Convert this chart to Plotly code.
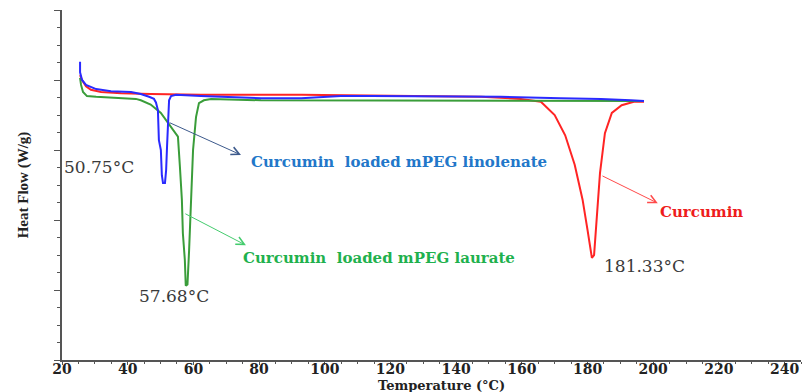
import plotly.graph_objects as go

# DSC thermograms: temperature (°C) vs heat flow (arbitrary W/g offset, endo down)
peak_linolenate = 50.75
peak_laurate = 57.68
peak_curcumin = 181.33

lin_T = [25.5, 25.5, 26.1, 27.3, 30.4, 34.9, 41.0, 44.0, 46.5, 48.0, 48.6, 49.2, 49.5,
         50.1, 50.4, peak_linolenate, 51.35, 51.7, 52.0, 52.3, 52.6, 53.2, 54.7, 62.3,
         71.4, 80.6, 92.8, 104.9, 114.1, 135.4, 153.6, 171.9, 184.1, 193.2, 197.2]
lin_Q = [4.26, 4.11, 4.00, 3.93, 3.87, 3.84, 3.83, 3.80, 3.76, 3.73, 3.68, 3.57, 3.14,
         3.00, 2.64, 2.53, 2.53, 2.71, 3.07, 3.43, 3.71, 3.77, 3.79, 3.77,
         3.76, 3.74, 3.74, 3.77, 3.77, 3.76, 3.76, 3.74, 3.73, 3.71, 3.70]

lau_T = [25.5, 25.8, 26.4, 27.6, 30.4, 38.0, 42.5, 44.0, 47.0, 50.1, 53.2, 55.3, 55.9,
         56.5, 56.8, 57.4, peak_laurate, 58.2, 58.7, 59.3, 59.9, 60.8, 61.7, 63.2,
         65.4, 80.6, 123.2, 153.6, 184.1, 197.2]
lau_Q = [4.03, 3.93, 3.83, 3.77, 3.76, 3.74, 3.73, 3.71, 3.65, 3.53, 3.33, 3.19, 2.76,
         2.29, 1.81, 1.43, 1.06, 1.08, 1.57, 2.29, 3.00, 3.47, 3.67, 3.71,
         3.73, 3.71, 3.71, 3.71, 3.71, 3.70]

cur_T = [25.5, 26.1, 27.3, 28.8, 31.9, 38.0, 47.1, 62.3, 92.8, 123.2, 147.6, 159.7,
         165.8, 170.0, 173.2, 176.1, 178.5, 180.0, peak_curcumin, 182.0, 182.9, 183.8,
         185.3, 187.4, 190.4, 194.1, 197.2]
cur_Q = [4.07, 4.00, 3.91, 3.86, 3.83, 3.81, 3.80, 3.79, 3.79, 3.77, 3.76, 3.73,
         3.69, 3.50, 3.21, 2.79, 2.29, 1.86, 1.46, 1.50, 2.07, 2.67,
         3.24, 3.53, 3.64, 3.69, 3.69]

x_ticks = [20, 40, 60, 80, 100, 120, 140, 160, 180, 200, 220, 240]

serif = "Liberation Serif"
wide_serif = "DejaVu Serif"

fig = go.Figure()
fig.add_trace(go.Scatter(x=cur_T, y=cur_Q, mode="lines", name="Curcumin",
                         line=dict(color="#ff2424", width=2)))
fig.add_trace(go.Scatter(x=lau_T, y=lau_Q, mode="lines", name="Curcumin loaded mPEG laurate",
                         line=dict(color="#3a9d3a", width=2)))
fig.add_trace(go.Scatter(x=lin_T, y=lin_Q, mode="lines", name="Curcumin loaded mPEG linolenate",
                         line=dict(color="#2a2aff", width=2)))

arrows = [
    # pointer arrows (head at x,y ; tail at ax,ay)
    dict(x=74.5, y=2.93, ax=52.3, ay=3.40, color="#3d5a8c"),
    dict(x=76.0, y=1.64, ax=57.1, ay=2.10, color="#45cc6e"),
    dict(x=201.4, y=2.24, ax=184.1, ay=2.64, color="#ff4a4a"),
]
ann_list = []
for a in arrows:
    ann_list.append(dict(x=a["x"], y=a["y"], ax=a["ax"], ay=a["ay"], xref="x", yref="y",
                         axref="x", ayref="y", text="", showarrow=True, arrowhead=5,
                         arrowsize=1.6, arrowwidth=1, arrowcolor=a["color"]))

label_font = dict(family=wide_serif, size=15, weight="bold")
temp_font = dict(family=wide_serif, size=17, color="#3a3a3a")
ann_list += [
    dict(x=76.9, y=2.83, xanchor="left", yanchor="middle", showarrow=False,
         text="Curcumin  loaded mPEG linolenate",
         font=dict(label_font, color="#2277c9")),
    dict(x=74.5, y=1.46, xanchor="left", yanchor="middle", showarrow=False,
         text="Curcumin  loaded mPEG laurate",
         font=dict(label_font, color="#1fb14e")),
    dict(x=201.4, y=2.11, xanchor="left", yanchor="middle", showarrow=False,
         text="Curcumin", font=dict(label_font, color="#ee1c1c")),
    dict(x=31.2, y=2.76, showarrow=False, text=f"{peak_linolenate:.2f}°C", font=temp_font),
    dict(x=54.0, y=0.91, showarrow=False, text=f"{peak_laurate:.2f}°C", font=temp_font),
    dict(x=197.2, y=1.34, showarrow=False, text=f"{peak_curcumin:.2f}°C", font=temp_font),
    # x-axis title, set just under the tick labels
    dict(x=135.4, y=0, xref="x", yref="paper", yanchor="middle", yshift=-25, showarrow=False,
         borderpad=0, text="Temperature (°C)",
         font=dict(family=wide_serif, size=13, color="#222", weight="bold")),
]

axis_col = "#555555"
fig.update_layout(
    width=805, height=392,
    margin=dict(l=62, r=4, t=10, b=32),
    paper_bgcolor="white", plot_bgcolor="white",
    showlegend=False,
    annotations=ann_list,
    xaxis=dict(
        range=[20, 245], tickvals=x_ticks, ticktext=[str(t) for t in x_ticks],
        showgrid=False, zeroline=False, showline=True, linecolor=axis_col, linewidth=2,
        ticks="outside", ticklen=3, tickcolor=axis_col, tickwidth=1,
        ticklabelstandoff=-8,
        minor=dict(dtick=5, tick0=0, ticks="outside", ticklen=2, tickcolor=axis_col),
        tickfont=dict(family=wide_serif, size=14, color="#222", weight="bold"),
    ),
    yaxis=dict(
        range=[0, 5], dtick=1, tick0=0, showticklabels=False,
        showgrid=False, zeroline=False, showline=True, linecolor=axis_col, linewidth=2,
        ticks="outside", ticklen=6, tickcolor=axis_col, tickwidth=1,
        minor=dict(dtick=0.25, ticks="outside", ticklen=3, tickcolor=axis_col),
        title=dict(text="Heat Flow (W/g)", standoff=22,
                   font=dict(family=serif, size=15, color="#222", weight="bold")),
    ),
)

fig.write_html("out.html")
